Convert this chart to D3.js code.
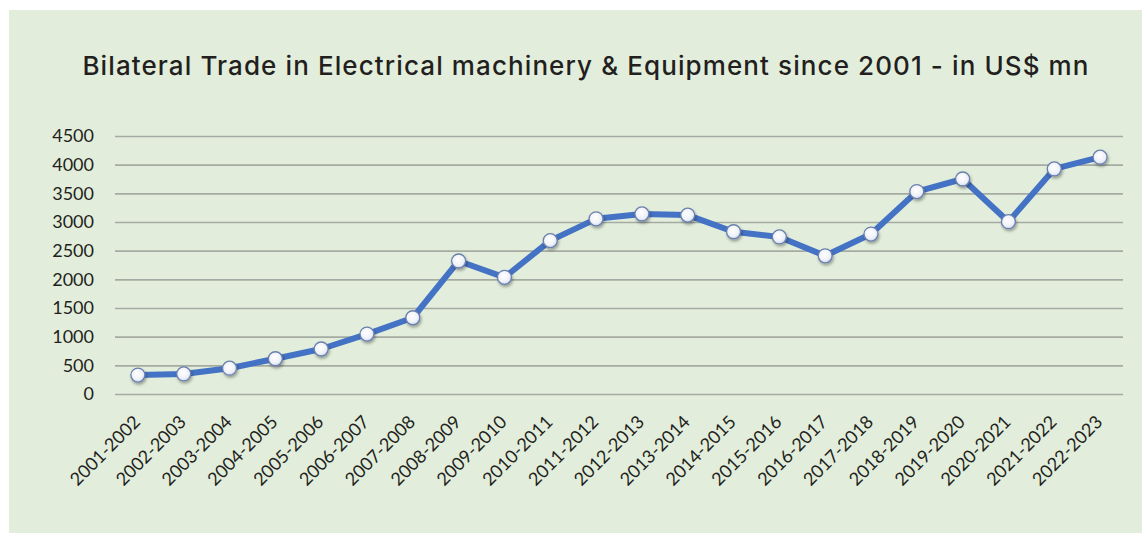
<!DOCTYPE html>
<html>
<head>
<meta charset="utf-8">
<script src="https://cdn.jsdelivr.net/npm/d3@7"></script>
<style>
  body { margin: 0; background: #ffffff; }
  svg { display: block; }
</style>
</head>
<body>
<script>
// fiscal years and trade values (US$ mn)
const years = ["2001-2002", "2002-2003", "2003-2004", "2004-2005", "2005-2006", "2006-2007",
  "2007-2008", "2008-2009", "2009-2010", "2010-2011", "2011-2012", "2012-2013", "2013-2014",
  "2014-2015", "2015-2016", "2016-2017", "2017-2018", "2018-2019", "2019-2020", "2020-2021",
  "2021-2022", "2022-2023"];
const trade = [330, 350, 450, 615, 785, 1045, 1330, 2320, 2035, 2675, 3055, 3140, 3120,
  2830, 2740, 2410, 2790, 3530, 3750, 3005, 3925, 4130];
const yTicks = [0, 500, 1000, 1500, 2000, 2500, 3000, 3500, 4000, 4500];

const W = 1142, H = 533;
const margin = {top: 136, right: 19, bottom: 139, left: 115};
const width = W - margin.left - margin.right,
      height = H - margin.top - margin.bottom;

const svg = d3.select("body").append("svg")
    .attr("width", W)
    .attr("height", H);

const defs = svg.append("defs");
const grad = defs.append("radialGradient").attr("id", "dot").attr("cx", "45%").attr("cy", "40%").attr("r", "60%");
grad.append("stop").attr("offset", "0%").attr("stop-color", "#ffffff");
grad.append("stop").attr("offset", "70%").attr("stop-color", "#eef1f8");
grad.append("stop").attr("offset", "100%").attr("stop-color", "#c9d2e6");
const shadow = defs.append("filter").attr("id", "shadow").attr("x", "-50%").attr("y", "-50%").attr("width", "200%").attr("height", "200%");
shadow.append("feDropShadow").attr("dx", 1).attr("dy", 2).attr("stdDeviation", 1.6)
    .attr("flood-color", "#000").attr("flood-opacity", 0.35);

// panel
svg.append("rect")
    .attr("x", 9).attr("y", 10)
    .attr("width", W - 9).attr("height", H - 10)
    .attr("fill", "#e2eedb");

svg.append("text")
    .attr("x", 586).attr("y", 75)
    .attr("text-anchor", "middle")
    .style("font-family", "Inter, 'Open Sans', sans-serif")
    .style("font-weight", 500)
    .style("font-size", "26px")
    .style("letter-spacing", "1.1px")
    .attr("fill", "#231f20")
    .text("Bilateral Trade in Electrical machinery & Equipment since 2001 - in US$ mn");

const g = svg.append("g")
    .attr("transform", "translate(" + margin.left + "," + margin.top + ")");

const x = d3.scalePoint().domain(years).range([0, width]).padding(0.5);
const y = d3.scaleLinear().domain([0, 4500]).range([height, 0]);

// grid lines
g.append("g")
    .call(d3.axisLeft(y).tickValues(yTicks).tickSize(-width).tickFormat(""))
    .call(a => a.select(".domain").remove())
    .selectAll("line")
    .attr("stroke", "#a5aba2")
    .attr("stroke-width", 1.6);

// y labels
g.append("g")
    .call(d3.axisLeft(y).tickValues(yTicks).tickSize(0).tickPadding(21).tickFormat(d3.format("d")))
    .call(a => a.select(".domain").remove())
    .selectAll("text")
    .style("font-family", "Lato, 'Open Sans', sans-serif")
    .style("font-size", "18px")
    .attr("fill", "#231f20");

// x labels
g.append("g")
    .attr("transform", "translate(0," + height + ")")
    .call(d3.axisBottom(x).tickSize(0).tickPadding(0))
    .call(a => a.select(".domain").remove())
    .selectAll("text")
    .attr("text-anchor", "end")
    .attr("dy", 0)
    .attr("transform", "translate(3,29) rotate(-45)")
    .style("font-family", "Lato, 'Open Sans', sans-serif")
    .style("font-size", "18px")
    .attr("fill", "#231f20");

const line = d3.line()
    .x((d, i) => x(years[i]))
    .y(d => y(d));

g.append("path")
    .datum(trade)
    .attr("fill", "none")
    .attr("stroke", "#4472c4")
    .attr("stroke-width", 6)
    .attr("stroke-linejoin", "round")
    .attr("d", line);

g.selectAll(".dot")
    .data(trade)
    .enter()
    .append("circle")
    .attr("class", "dot")
    .attr("cx", (d, i) => x(years[i]))
    .attr("cy", d => y(d))
    .attr("r", 7)
    .attr("fill", "url(#dot)")
    .attr("stroke", "#6a7fae")
    .attr("stroke-width", 1.3)
    .attr("filter", "url(#shadow)");
</script>
</body>
</html>
